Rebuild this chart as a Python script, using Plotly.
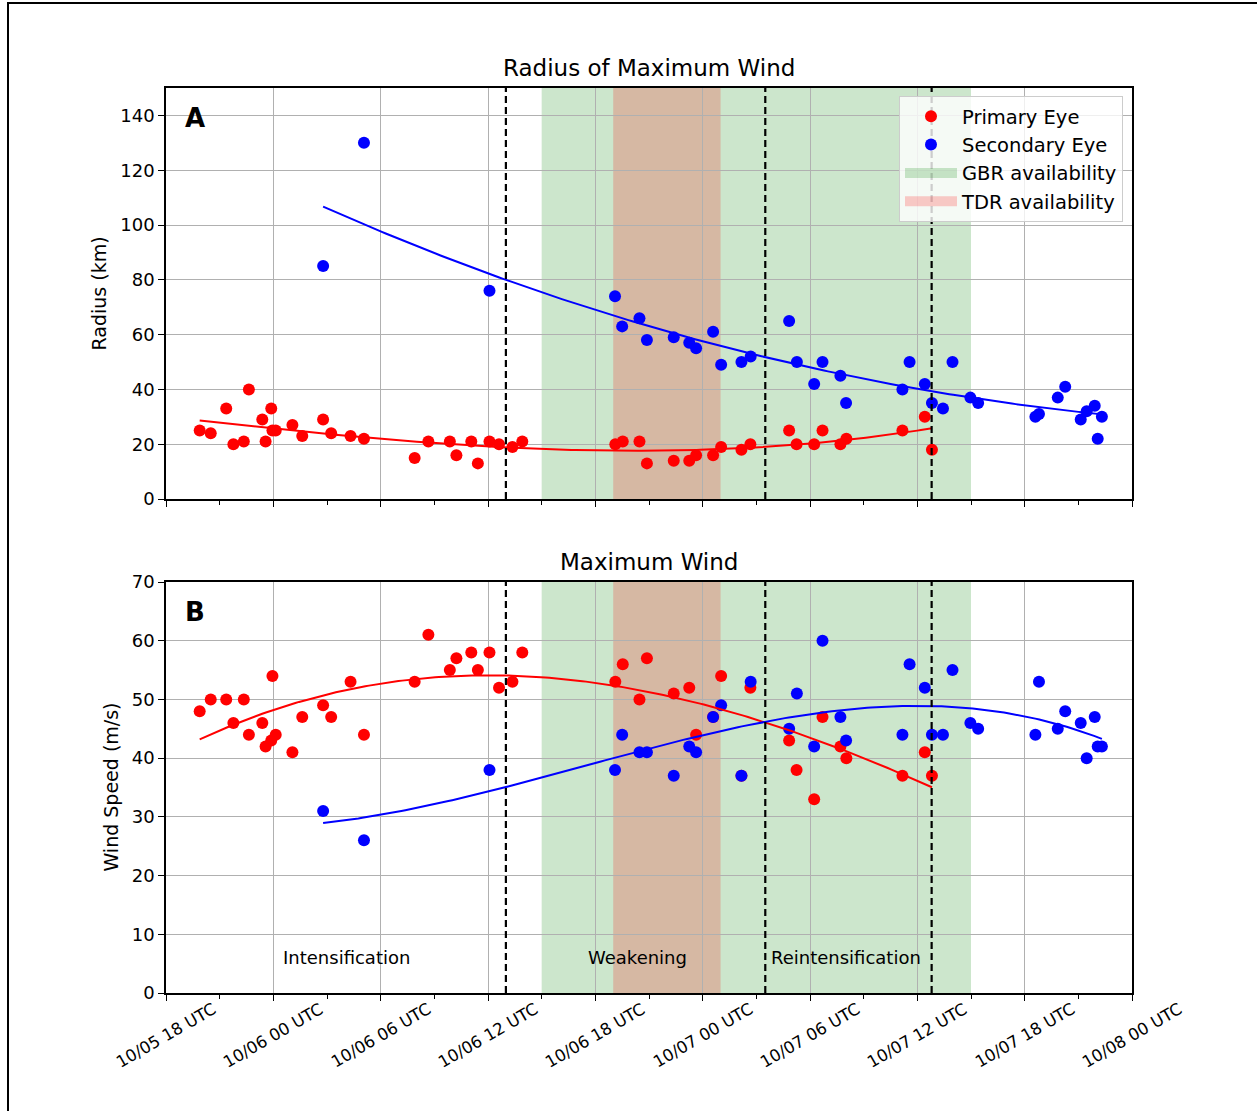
import numpy as np
import pandas as pd
import plotly.graph_objects as go

# ---------------- data ----------------
primary_time = [
    "2024-10-05 19:53", "2024-10-05 20:30", "2024-10-05 21:22", "2024-10-05 21:46",
    "2024-10-05 22:21", "2024-10-05 22:38", "2024-10-05 23:23", "2024-10-05 23:34",
    "2024-10-05 23:53", "2024-10-05 23:57", "2024-10-06 00:08", "2024-10-06 01:04",
    "2024-10-06 01:37", "2024-10-06 02:47", "2024-10-06 03:14", "2024-10-06 04:19",
    "2024-10-06 05:04", "2024-10-06 07:54", "2024-10-06 08:40", "2024-10-06 09:52",
    "2024-10-06 10:14", "2024-10-06 11:04", "2024-10-06 11:26", "2024-10-06 12:05",
    "2024-10-06 12:37", "2024-10-06 13:22", "2024-10-06 13:55", "2024-10-06 19:07",
    "2024-10-06 19:32", "2024-10-06 20:28", "2024-10-06 20:53", "2024-10-06 22:23",
    "2024-10-06 23:15", "2024-10-06 23:38", "2024-10-07 00:35", "2024-10-07 01:02",
    "2024-10-07 02:10", "2024-10-07 02:40", "2024-10-07 04:50", "2024-10-07 05:15",
    "2024-10-07 06:14", "2024-10-07 06:42", "2024-10-07 07:42", "2024-10-07 08:02",
    "2024-10-07 11:10", "2024-10-07 12:25", "2024-10-07 12:49",
]
primary_radius = [
    25, 24, 33, 20, 21, 40, 29, 21, 33, 25, 25, 27, 23, 29, 24, 23, 22, 15, 21, 21,
    16, 21, 13, 21, 20, 19, 21, 20, 21, 21, 13, 14, 14, 16, 16, 19, 18, 20, 25, 20,
    20, 25, 20, 22, 25, 30, 18,
]
primary_wind = [
    48, 50, 50, 46, 50, 44, 46, 42, 43, 54, 44, 41, 47, 49, 47, 53, 44, 53, 61, 55,
    57, 58, 55, 58, 52, 53, 58, 53, 56, 50, 57, 51, 52, 44, 47, 54, 37, 52, 43, 38,
    33, 47, 42, 40, 37, 41, 37,
]

secondary_time = [
    "2024-10-06 02:47", "2024-10-06 05:04", "2024-10-06 12:05", "2024-10-06 19:06",
    "2024-10-06 19:30", "2024-10-06 20:28", "2024-10-06 20:53", "2024-10-06 22:23",
    "2024-10-06 23:15", "2024-10-06 23:38", "2024-10-07 00:35", "2024-10-07 01:02",
    "2024-10-07 02:10", "2024-10-07 02:41", "2024-10-07 04:50", "2024-10-07 05:16",
    "2024-10-07 06:14", "2024-10-07 06:42", "2024-10-07 07:42", "2024-10-07 08:01",
    "2024-10-07 11:10", "2024-10-07 11:34", "2024-10-07 12:25", "2024-10-07 12:49",
    "2024-10-07 13:26", "2024-10-07 13:58", "2024-10-07 14:58", "2024-10-07 15:24",
    "2024-10-07 18:36", "2024-10-07 18:48", "2024-10-07 19:51", "2024-10-07 20:16",
    "2024-10-07 21:08", "2024-10-07 21:28", "2024-10-07 21:55", "2024-10-07 22:05",
    "2024-10-07 22:19",
]
secondary_radius = [
    85, 130, 76, 74, 63, 66, 58, 59, 57, 55, 61, 49, 50, 52, 65, 50, 42, 50, 45, 35,
    40, 50, 42, 35, 33, 50, 37, 35, 30, 31, 37, 41, 29, 32, 34, 22, 30,
]
secondary_wind = [
    31, 26, 38, 38, 44, 41, 41, 37, 42, 41, 47, 49, 37, 53, 45, 51, 42, 60, 47, 43,
    44, 56, 52, 44, 44, 55, 46, 45, 44, 53, 45, 48, 46, 40, 47, 42, 42,
]

tick_times = [
    "2024-10-05 18:00", "2024-10-06 00:00", "2024-10-06 06:00", "2024-10-06 12:00",
    "2024-10-06 18:00", "2024-10-07 00:00", "2024-10-07 06:00", "2024-10-07 12:00",
    "2024-10-07 18:00", "2024-10-08 00:00",
]
tick_labels = [
    "10/05 18 UTC", "10/06 00 UTC", "10/06 06 UTC", "10/06 12 UTC", "10/06 18 UTC",
    "10/07 00 UTC", "10/07 06 UTC", "10/07 12 UTC", "10/07 18 UTC", "10/08 00 UTC",
]
phase_boundaries = ["2024-10-06 13:00", "2024-10-07 03:30", "2024-10-07 12:48"]
gbr_window = ["2024-10-06 15:00", "2024-10-07 15:00"]
tdr_window = ["2024-10-06 19:00", "2024-10-07 01:00"]
phase_names = ["Intensification", "Weakening", "Reintensification"]
phase_label_times = ["2024-10-06 04:07", "2024-10-06 20:20", "2024-10-07 08:00"]
phase_label_value = 6.1

RED = "#ff0000"
BLUE = "#0000ff"
GBR_FILL = "rgba(0,128,0,0.2)"
TDR_FILL = "rgba(255,0,0,0.2)"
FONT = "DejaVu Sans"

W, H = 1257, 1111


def px_x(x):
    return x / W


def px_y(y):
    return 1 - y / H


def fit_curve(times, values, deg=3):
    t = pd.to_datetime(pd.Series(times))
    h = (t - t.min()).dt.total_seconds().to_numpy() / 3600.0
    c = np.polyfit(h, np.asarray(values, float), deg)
    hh = np.linspace(h.min(), h.max(), 200)
    return t.min() + pd.to_timedelta(hh, unit="h"), np.polyval(c, hh)


fig = go.Figure()

panels = [
    ("x", "y", primary_radius, secondary_radius, True),
    ("x2", "y2", primary_wind, secondary_wind, False),
]
for xa, ya, pvals, svals, legend in panels:
    fig.add_trace(go.Scatter(
        x=primary_time, y=pvals, mode="markers", xaxis=xa, yaxis=ya,
        marker=dict(color=RED, size=12), name="Primary Eye",
        legendgroup="p", showlegend=legend))
    fig.add_trace(go.Scatter(
        x=secondary_time, y=svals, mode="markers", xaxis=xa, yaxis=ya,
        marker=dict(color=BLUE, size=12), name="Secondary Eye",
        legendgroup="s", showlegend=legend))
    fx, fy = fit_curve(primary_time, pvals)
    fig.add_trace(go.Scatter(x=fx, y=fy, mode="lines", xaxis=xa, yaxis=ya,
                             line=dict(color=RED, width=2), showlegend=False,
                             hoverinfo="skip"))
    fx, fy = fit_curve(secondary_time, svals)
    fig.add_trace(go.Scatter(x=fx, y=fy, mode="lines", xaxis=xa, yaxis=ya,
                             line=dict(color=BLUE, width=2), showlegend=False,
                             hoverinfo="skip"))

# legend-only entries for the shaded availability windows
fig.add_trace(go.Scatter(x=[None], y=[None], mode="lines", name="GBR availability",
                         line=dict(color=GBR_FILL, width=14), legendgroup="g"))
fig.add_trace(go.Scatter(x=[None], y=[None], mode="lines", name="TDR availability",
                         line=dict(color=TDR_FILL, width=14), legendgroup="t"))

shapes = []
for xa, ya in (("x", "y"), ("x2", "y2")):
    shapes.append(dict(type="rect", xref=xa, yref=f"{ya} domain", x0=gbr_window[0],
                       x1=gbr_window[1], y0=0, y1=1, fillcolor=GBR_FILL,
                       line=dict(width=0), layer="below"))
    shapes.append(dict(type="rect", xref=xa, yref=f"{ya} domain", x0=tdr_window[0],
                       x1=tdr_window[1], y0=0, y1=1, fillcolor=TDR_FILL,
                       line=dict(width=0), layer="below"))
    for b in phase_boundaries:
        shapes.append(dict(type="line", xref=xa, yref=f"{ya} domain", x0=b, x1=b,
                           y0=0, y1=1, line=dict(color="black", width=2.2,
                                                 dash="7px,4px"), layer="above"))
# outer frame of the figure
shapes.append(dict(type="rect", xref="paper", yref="paper", x0=px_x(8), x1=1.05,
                   y0=-0.05, y1=px_y(3), line=dict(color="black", width=2),
                   fillcolor="rgba(0,0,0,0)", layer="above"))

annotations = []
for t, lab in zip(tick_times, tick_labels):
    annotations.append(dict(x=t, xref="x2", y=px_y(1035), yref="paper", text=lab,
                            textangle=-30, showarrow=False, xanchor="center",
                            yanchor="middle", font=dict(size=16.5, color="black")))
for t, name in zip(phase_label_times, phase_names):
    annotations.append(dict(x=t, xref="x2", y=phase_label_value, yref="y2", text=name,
                            showarrow=False, xanchor="center", yanchor="middle",
                            font=dict(size=18, color="black")))
annotations += [
    dict(x=px_x(649), y=px_y(68), xref="paper", yref="paper",
         text="Radius of Maximum Wind", showarrow=False, xanchor="center",
         yanchor="middle", font=dict(size=23, color="black")),
    dict(x=px_x(649), y=px_y(562), xref="paper", yref="paper",
         text="Maximum Wind", showarrow=False, xanchor="center",
         yanchor="middle", font=dict(size=23, color="black")),
    dict(x=px_x(98), y=px_y(293.5), xref="paper", yref="paper", text="Radius (km)",
         textangle=-90, showarrow=False, xanchor="center", yanchor="middle",
         font=dict(size=19, color="black")),
    dict(x=px_x(110), y=px_y(787.5), xref="paper", yref="paper",
         text="Wind Speed (m/s)", textangle=-90, showarrow=False,
         xanchor="center", yanchor="middle", font=dict(size=19, color="black")),
    dict(x=px_x(195), y=px_y(118), xref="paper", yref="paper", text="<b>A</b>",
         showarrow=False, xanchor="center", yanchor="middle",
         font=dict(size=26, color="black")),
    dict(x=px_x(195), y=px_y(612), xref="paper", yref="paper", text="<b>B</b>",
         showarrow=False, xanchor="center", yanchor="middle",
         font=dict(size=26, color="black")),
]

xcommon = dict(
    type="date", range=[tick_times[0], tick_times[-1]], tick0=tick_times[0],
    dtick=6 * 3600 * 1000, showticklabels=False, ticks="outside", ticklen=6,
    tickwidth=1.3, tickcolor="black", showgrid=True, gridcolor="#b0b0b0",
    gridwidth=1.2, showline=True, mirror=True, linecolor="black", linewidth=1.5,
    zeroline=False, domain=[px_x(166), px_x(1132)],
    minor=dict(dtick=3 * 3600 * 1000, tick0=tick_times[0], ticks="outside",
               ticklen=4, tickwidth=1, tickcolor="black", showgrid=False),
)
ycommon = dict(
    ticks="outside", ticklen=6, tickwidth=1.3, tickcolor="black", showgrid=True,
    gridcolor="#b0b0b0", gridwidth=1.2, showline=True, mirror=True,
    linecolor="black", linewidth=1.5, zeroline=False,
    tickfont=dict(size=18, color="black"),
)

fig.update_layout(
    width=W, height=H, margin=dict(l=0, r=0, t=0, b=0), template="none",
    paper_bgcolor="white", plot_bgcolor="rgba(0,0,0,0)",
    font=dict(family=FONT, size=18, color="black"),
    xaxis=dict(xcommon, anchor="y"),
    xaxis2=dict(xcommon, anchor="y2", matches="x"),
    yaxis=dict(ycommon, range=[0, 150], dtick=20, tick0=0, anchor="x",
               domain=[px_y(499), px_y(88)]),
    yaxis2=dict(ycommon, range=[0, 70], dtick=10, tick0=0, anchor="x2",
                domain=[px_y(993), px_y(582)]),
    shapes=shapes, annotations=annotations, showlegend=True,
    legend=dict(x=px_x(1123), xanchor="right", y=px_y(96), yanchor="top",
                bgcolor="rgba(255,255,255,0.8)", bordercolor="#cccccc",
                borderwidth=1, font=dict(size=19.5, color="black"),
                tracegroupgap=0, itemwidth=52),
    hovermode=False,
)

fig.write_html("out.html", config={"displayModeBar": False},
               post_script="document.body.style.margin='0';document.body.style.overflow='hidden';")
